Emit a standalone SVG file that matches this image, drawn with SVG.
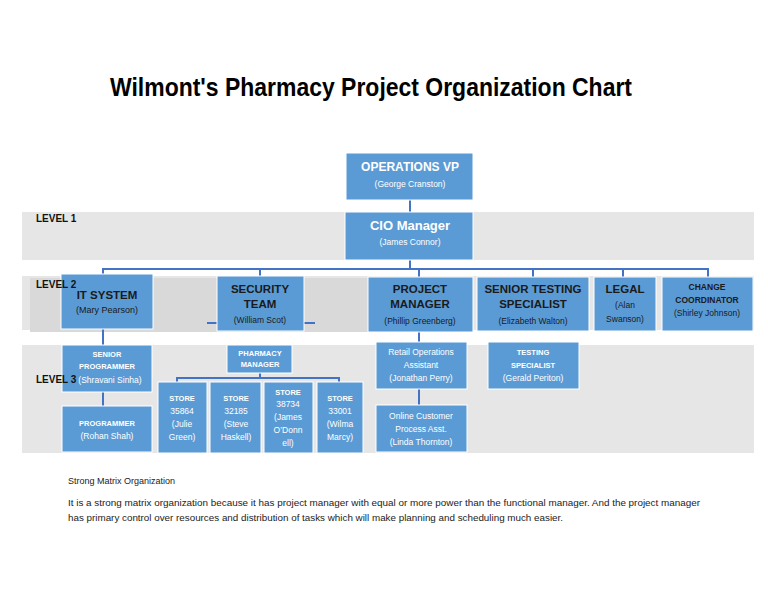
<svg xmlns="http://www.w3.org/2000/svg" width="768" height="594" viewBox="0 0 768 594">
<style>
.band{fill:#e6e6e6}
.box{fill:#5b9bd5;stroke:#ffffff;stroke-width:1}
.con{stroke:#4472c4;stroke-width:2;fill:none}
text{font-family:"Liberation Sans",Arial,sans-serif;text-anchor:middle}
.w{fill:#ffffff}
.d{fill:#1a1a1a}
.b{font-weight:bold}
.lvl{font-family:"Liberation Sans",Arial,sans-serif;font-weight:bold;font-size:10px;fill:#111;text-anchor:start}
.note{font-size:9px;fill:#222;text-anchor:start}
</style>
<rect width="768" height="594" fill="#ffffff"/>
<text x="110" y="96" textLength="522" lengthAdjust="spacingAndGlyphs" style="font-size:26px;font-weight:bold;text-anchor:start;fill:#000">Wilmont's Pharmacy Project Organization Chart</text>

<g id="bands">
<rect class="band" x="22" y="212" width="732" height="48"/>
<rect class="band" x="22" y="276" width="732" height="54"/>
<rect x="30" y="278" width="338" height="54" fill="#d9d9d9"/>
<rect class="band" x="22" y="345" width="732" height="108"/>
</g>

<g id="connectors">
<line class="con" x1="410" y1="200" x2="410" y2="212"/>
<line class="con" x1="410" y1="260" x2="410" y2="269"/>
<line class="con" x1="103" y1="269" x2="708" y2="269"/>
<line class="con" x1="103" y1="268" x2="103" y2="275"/>
<line class="con" x1="260" y1="268" x2="260" y2="277"/>
<line class="con" x1="419" y1="268" x2="419" y2="277"/>
<line class="con" x1="533" y1="268" x2="533" y2="277"/>
<line class="con" x1="623" y1="268" x2="623" y2="277"/>
<line class="con" x1="708" y1="268" x2="708" y2="277"/>
<line class="con" x1="207" y1="323" x2="217" y2="323"/>
<line class="con" x1="304" y1="323" x2="315" y2="323"/>
<line class="con" x1="103" y1="329" x2="103" y2="345"/>
<line class="con" x1="103" y1="392" x2="103" y2="406"/>
<line class="con" x1="260" y1="373" x2="260" y2="378"/>
<line class="con" x1="177" y1="378" x2="339" y2="378"/>
<line class="con" x1="177" y1="377" x2="177" y2="382"/>
<line class="con" x1="339" y1="377" x2="339" y2="382"/>
<line class="con" x1="419" y1="332" x2="419" y2="342"/>
<line class="con" x1="419" y1="389" x2="419" y2="405"/>
</g>

<g id="ops-vp">
<rect class="box" x="346" y="153" width="127" height="47"/>
<text class="w b" x="410" y="171" style="font-size:12px">OPERATIONS VP</text>
<text class="w" x="410" y="187" style="font-size:8.5px">(George Cranston)</text>
</g>
<g id="cio">
<rect class="box" x="345" y="212" width="128" height="48"/>
<text class="w b" x="410" y="230" style="font-size:13px">CIO Manager</text>
<text class="w" x="410" y="245" style="font-size:8.5px">(James Connor)</text>
</g>

<g id="it-system">
<rect class="box" x="61" y="274" width="92" height="55"/>
<text class="d b" x="107" y="299" style="font-size:11.5px">IT SYSTEM</text>
<text class="d" x="107" y="313" style="font-size:9px">(Mary Pearson)</text>
</g>
<g id="security-team">
<rect class="box" x="217" y="276" width="87" height="55"/>
<text class="d b" x="260" y="293" style="font-size:11.5px">SECURITY</text>
<text class="d b" x="260" y="308" style="font-size:11.5px">TEAM</text>
<text class="d" x="260" y="323" style="font-size:8.5px">(William Scot)</text>
</g>
<g id="project-manager">
<rect class="box" x="368" y="277" width="105" height="55"/>
<text class="d b" x="420" y="293" style="font-size:11.5px">PROJECT</text>
<text class="d b" x="420" y="308" style="font-size:11.5px">MANAGER</text>
<text class="d" x="420" y="324" style="font-size:8.5px">(Phillip Greenberg)</text>
</g>
<g id="senior-testing">
<rect class="box" x="477" y="277" width="112" height="54"/>
<text class="d b" x="533" y="293" style="font-size:11.5px">SENIOR TESTING</text>
<text class="d b" x="533" y="308" style="font-size:11.5px">SPECIALIST</text>
<text class="d" x="533" y="324" style="font-size:8.5px">(Elizabeth Walton)</text>
</g>
<g id="legal">
<rect class="box" x="594" y="277" width="62" height="54"/>
<text class="d b" x="625" y="293" style="font-size:11.5px">LEGAL</text>
<text class="d" x="625" y="308" style="font-size:8.5px">(Alan</text>
<text class="d" x="625" y="322" style="font-size:8.5px">Swanson)</text>
</g>
<g id="change-coordinator">
<rect class="box" x="662" y="277" width="91" height="54"/>
<text class="d b" x="707" y="290" style="font-size:8.5px">CHANGE</text>
<text class="d b" x="707" y="303" style="font-size:8.5px">COORDINATOR</text>
<text class="d" x="707" y="316" style="font-size:8.5px">(Shirley Johnson)</text>
</g>

<g id="senior-programmer">
<rect class="box" x="62" y="345" width="90" height="47"/>
<text class="w b" x="107" y="357" style="font-size:7.5px">SENIOR</text>
<text class="w b" x="107" y="369" style="font-size:7.5px">PROGRAMMER</text>
<text class="w" x="110" y="383" style="font-size:8.5px">(Shravani Sinha)</text>
</g>
<g id="programmer">
<rect class="box" x="62" y="406" width="90" height="46"/>
<text class="w b" x="107" y="426" style="font-size:7.5px">PROGRAMMER</text>
<text class="w" x="107" y="439" style="font-size:8.5px">(Rohan Shah)</text>
</g>
<g id="pharmacy-manager">
<rect class="box" x="227" y="345" width="65" height="28"/>
<text class="w b" x="260" y="356" style="font-size:7.5px">PHARMACY</text>
<text class="w b" x="260" y="367" style="font-size:7.5px">MANAGER</text>
</g>
<g id="store-35864">
<rect class="box" x="158" y="382" width="49" height="71"/>
<text class="w b" x="182" y="401" style="font-size:7.5px">STORE</text>
<text class="w" x="182" y="414" style="font-size:8.5px">35864</text>
<text class="w" x="182" y="427" style="font-size:8.5px">(Julie</text>
<text class="w" x="182" y="440" style="font-size:8.5px">Green)</text>
</g>
<g id="store-32185">
<rect class="box" x="210" y="382" width="51" height="71"/>
<text class="w b" x="236" y="401" style="font-size:7.5px">STORE</text>
<text class="w" x="236" y="414" style="font-size:8.5px">32185</text>
<text class="w" x="236" y="427" style="font-size:8.5px">(Steve</text>
<text class="w" x="236" y="440" style="font-size:8.5px">Haskell)</text>
</g>
<g id="store-38734">
<rect class="box" x="264" y="382" width="49" height="71"/>
<text class="w b" x="288" y="395" style="font-size:7.5px">STORE</text>
<text class="w" x="288" y="407" style="font-size:8.5px">38734</text>
<text class="w" x="288" y="420" style="font-size:8.5px">(James</text>
<text class="w" x="288" y="433" style="font-size:8.5px">O’Donn</text>
<text class="w" x="288" y="446" style="font-size:8.5px">ell)</text>
</g>
<g id="store-33001">
<rect class="box" x="317" y="382" width="46" height="71"/>
<text class="w b" x="340" y="401" style="font-size:7.5px">STORE</text>
<text class="w" x="340" y="414" style="font-size:8.5px">33001</text>
<text class="w" x="340" y="427" style="font-size:8.5px">(Wilma</text>
<text class="w" x="340" y="440" style="font-size:8.5px">Marcy)</text>
</g>
<g id="retail-ops">
<rect class="box" x="376" y="342" width="91" height="47"/>
<text class="w" x="421" y="355" style="font-size:8.5px">Retail Operations</text>
<text class="w" x="421" y="368" style="font-size:8.5px">Assistant</text>
<text class="w" x="421" y="381" style="font-size:8.5px">(Jonathan Perry)</text>
</g>
<g id="online-customer">
<rect class="box" x="376" y="405" width="91" height="47"/>
<text class="w" x="421" y="419" style="font-size:8.5px">Online Customer</text>
<text class="w" x="421" y="432" style="font-size:8.5px">Process Asst.</text>
<text class="w" x="421" y="445" style="font-size:8.5px">(Linda Thornton)</text>
</g>
<g id="testing-specialist">
<rect class="box" x="488" y="342" width="91" height="47"/>
<text class="w b" x="533" y="355" style="font-size:7.5px">TESTING</text>
<text class="w b" x="533" y="368" style="font-size:7.5px">SPECIALIST</text>
<text class="w" x="533" y="381" style="font-size:8.5px">(Gerald Periton)</text>
</g>

<g id="lvl-labels">
<text class="lvl" x="36" y="222">LEVEL 1</text>
<text class="lvl" x="36" y="288">LEVEL 2</text>
<text class="lvl" x="36" y="383">LEVEL 3</text>
</g>

<g id="notes">
<text class="note" x="68" y="484">Strong Matrix Organization</text>
<text class="note" x="68" y="506" textLength="632" lengthAdjust="spacingAndGlyphs">It is a strong matrix organization because it has project manager with equal or more power than the functional manager. And the project manager</text>
<text class="note" x="68" y="521" textLength="495" lengthAdjust="spacingAndGlyphs">has primary control over resources and distribution of tasks which will make planning and scheduling much easier.</text>
</g>
</svg>
